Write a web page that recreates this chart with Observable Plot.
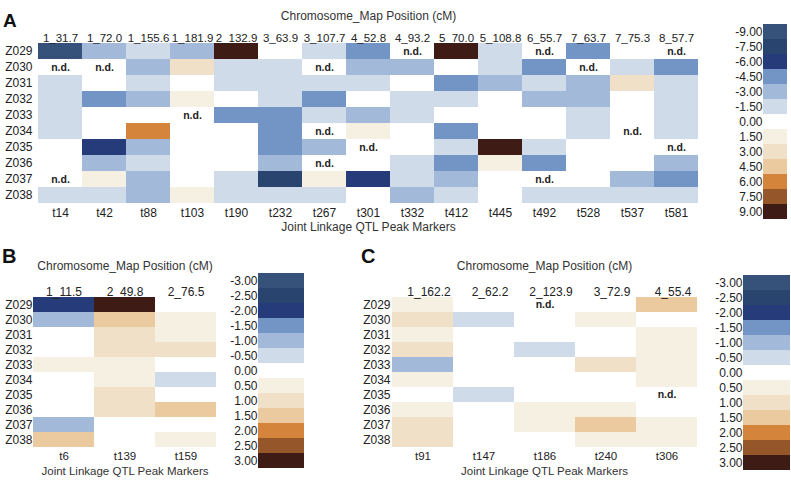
<!DOCTYPE html>
<html>
<head>
<meta charset="utf-8">
<script src="https://cdn.jsdelivr.net/npm/d3@7"></script>
<script src="https://cdn.jsdelivr.net/npm/@observablehq/plot@0.6"></script>
<style>
  html, body { margin: 0; padding: 0; background: #fff; }
  #root { position: relative; width: 791px; height: 481px; background: #fff; font-family: "Liberation Sans", Arial, sans-serif; }
  .pane { position: absolute; }
  .letter { position: absolute; font-weight: bold; line-height: 1; color: #111; }
</style>
</head>
<body>
<div id="root">
  <div class="letter" style="left:3px;top:11px;font-size:19px;">A</div>
  <div class="letter" style="left:2px;top:246px;font-size:20px;">B</div>
  <div class="letter" style="left:361px;top:246px;font-size:20px;">C</div>
  <div class="pane" id="pA" style="left:0px;top:0px;"></div>
  <div class="pane" id="lA" style="left:715px;top:20px;"></div>
  <div class="pane" id="pB" style="left:0px;top:248px;"></div>
  <div class="pane" id="lB" style="left:215px;top:268px;"></div>
  <div class="pane" id="pC" style="left:350px;top:248px;"></div>
  <div class="pane" id="lC" style="left:700px;top:270px;"></div>
</div>
<script>
// ---------- data ----------
const rowLabels = ["Z029","Z030","Z031","Z032","Z033","Z034","Z035","Z036","Z037","Z038"];

const topA = ["1_31.7","1_72.0","1_155.6","1_181.9","2_132.9","3_63.9","3_107.7","4_52.8","4_93.2","5_70.0","5_108.8","6_55.7","7_63.7","7_75.3","8_57.7"];
const bottomA = ["t14","t42","t88","t103","t190","t232","t267","t301","t332","t412","t445","t492","t528","t537","t581"];
// null = n.d.
const valuesA = [
  [-9, -3, -1.5, -3, 9, 0, -1.5, -4.5, null, 9, -1.5, null, -4.5, 0, null],
  [null, null, -3, 3, -1.5, -1.5, null, -3, -3, 0, -1.5, -4.5, null, -1.5, -4.5],
  [-1.5, 0, -1.5, 0, -1.5, -1.5, -1.5, -1.5, 0, -4.5, -3, -1.5, -3, 3, -1.5],
  [-1.5, -4.5, -3, 1.5, 0, -1.5, -4.5, 0, -1.5, -1.5, 0, -3, -3, 0, -1.5],
  [-1.5, 0, 0, null, -4.5, -4.5, -1.5, -3, -1.5, 0, 0, 0, -1.5, 0, -1.5],
  [-1.5, 0, 6, 0, 0, -4.5, null, 1.5, 0, -4.5, 0, 0, -1.5, null, -1.5],
  [0, -6, -3, 0, 0, -4.5, -3, null, 0, -1.5, 9, -1.5, 0, 0, null],
  [0, -3, -1.5, 0, 0, -3, null, 0, -1.5, -4.5, 1.5, -4.5, 0, 0, -3],
  [null, 1.5, -3, 0, -1.5, -7.5, 1.5, -6, -1.5, -3, 0, null, 0, -3, -4.5],
  [-1.5, -1.5, -3, 1.5, -1.5, -1.5, -1.5, 0, -3, -1.5, 0, -1.5, -1.5, -1.5, -1.5]
];

const topB = ["1_11.5","2_49.8","2_76.5"];
const bottomB = ["t6","t139","t159"];
const valuesB = [
  [-2, 3, 0],
  [-1, 1.5, 0.5],
  [0, 1, 0.5],
  [0, 1, 1],
  [0.5, 0.5, 0],
  [0, 0.5, -0.5],
  [0, 1, 0],
  [0, 1, 1.5],
  [-1, 0, 0],
  [1.5, 0, 0.5]
];

const topC = ["1_162.2","2_62.2","2_123.9","3_72.9","4_55.4"];
const bottomC = ["t91","t147","t186","t240","t306"];
const valuesC = [
  [0.5, 0, null, 0, 1.5],
  [1, -0.5, 0, 0.5, 0],
  [0.5, 0, 0, 0, 0.5],
  [1, 0, -0.5, 0, 0.5],
  [-1, 0, 0, 1, 0.5],
  [0.5, 0, 0, 0, 0.5],
  [0, -0.5, 0, 0, null],
  [0.5, 0, 0.5, 0.5, 0],
  [1, 0, 0.5, 1.5, 0.5],
  [1, 0, 0, 0.5, 0.5]
];

const legendLevelsA = [-9, -7.5, -6, -4.5, -3, -1.5, 0, 1.5, 3, 4.5, 6, 7.5, 9];
const legendLevelsBC = [-3, -2.5, -2, -1.5, -1, -0.5, 0, 0.5, 1, 1.5, 2, 2.5, 3];
const swatchColors = ["#36527b","#29446f","#253b7a","#7395c6","#a3b9da","#cfdbe9","#ffffff","#f6f0e3","#f0e0c8","#ebcaa0","#d4843b","#95572a","#3f1b15"];

const titleTop = "Chromosome_Map Position (cM)";
const titleBottom = "Joint Linkage QTL Peak Markers";

// ---------- drawing ----------
const FONT = "'Liberation Sans', Arial, Helvetica, sans-serif";

function colorScale(levels) {
  return {type: "threshold", domain: d3.pairs(levels, (a, b) => (a + b) / 2), range: swatchColors};
}

function heatmap(o) {
  const cells = rowLabels.flatMap((r, i) => o.bottom.map((c, j) => ({row: r, col: c, value: o.values[i][j]})));
  return Plot.plot({
    width: o.width, height: o.height,
    marginTop: o.mt, marginRight: o.mr, marginBottom: o.mb, marginLeft: o.ml,
    style: {fontFamily: FONT, fontSize: "12px", color: "#222", background: "transparent"},
    x: {type: "band", domain: o.bottom, padding: 0},
    y: {type: "band", domain: rowLabels, padding: 0},
    color: colorScale(o.levels),
    marks: [
      Plot.cell(cells, {x: "col", y: "row", fill: "value"}),
      Plot.text(cells.filter(d => d.value === null), {x: "col", y: "row", text: () => "n.d.", fontWeight: "bold", fontSize: 10.5, fill: "#222"}),
      Plot.axisX({anchor: "top", tickSize: 0, tickPadding: o.topPad, dx: o.topDx || 0, fontSize: o.topFont || 12, tickFormat: d => o.top[o.bottom.indexOf(d)], label: null}),
      Plot.axisX({anchor: "bottom", tickSize: 0, tickPadding: o.botPad, fontSize: o.botFont || 12, label: null}),
      Plot.axisY({anchor: "left", tickSize: 0, tickPadding: 1, label: null}),
      Plot.text([titleTop], {frameAnchor: "top", dy: o.titleDy, text: d => d, fill: "#333", fontSize: 12}),
      Plot.text([titleBottom], {frameAnchor: "bottom", dy: o.xlabDy, text: d => d, fill: "#333", fontSize: o.xlabFont || 12})
    ]
  });
}

function legend(o) {
  return Plot.plot({
    width: o.width, height: o.height,
    marginTop: o.mt, marginRight: o.mr, marginBottom: o.mb, marginLeft: o.ml,
    style: {fontFamily: FONT, fontSize: "12px", color: "#222", background: "transparent"},
    y: {type: "band", domain: o.levels, padding: 0},
    color: colorScale(o.levels),
    marks: [
      Plot.cell(o.levels, {y: d => d, fill: d => d}),
      Plot.axisY({anchor: "left", tickSize: 0, tickPadding: 1, tickFormat: d => d.toFixed(2), label: null})
    ]
  });
}

document.getElementById("pA").append(heatmap({
  values: valuesA, top: topA, bottom: bottomA, levels: legendLevelsA,
  width: 715, height: 242, mt: 43, mr: 12, mb: 39, ml: 33,
  topPad: 2, topFont: 11.5, botPad: 5, titleDy: -32, xlabDy: 27
}));
document.getElementById("lA").append(legend({
  levels: legendLevelsA, width: 76, height: 202, mt: 4, mr: 4, mb: 3, ml: 48
}));

document.getElementById("pB").append(heatmap({
  values: valuesB, top: topB, bottom: bottomB, levels: legendLevelsBC,
  width: 230, height: 233, mt: 48, mr: 14, mb: 34, ml: 33,
  topPad: 1, botPad: 4, botFont: 11.5, xlabFont: 11.5, titleDy: -35, xlabDy: 27
}));
document.getElementById("lB").append(legend({
  levels: legendLevelsBC, width: 95, height: 205, mt: 5, mr: 6, mb: 5, ml: 43
}));

document.getElementById("pC").append(heatmap({
  values: valuesC, top: topC, bottom: bottomC, levels: legendLevelsBC,
  width: 360, height: 233, mt: 48, mr: 13, mb: 34, ml: 41,
  topPad: 1, botPad: 4, botFont: 11.5, xlabFont: 11.5, topDx: 6, titleDy: -35, xlabDy: 27
}));
document.getElementById("lC").append(legend({
  levels: legendLevelsBC, width: 91, height: 205, mt: 5, mr: 1, mb: 5, ml: 43
}));
</script>
</body>
</html>
